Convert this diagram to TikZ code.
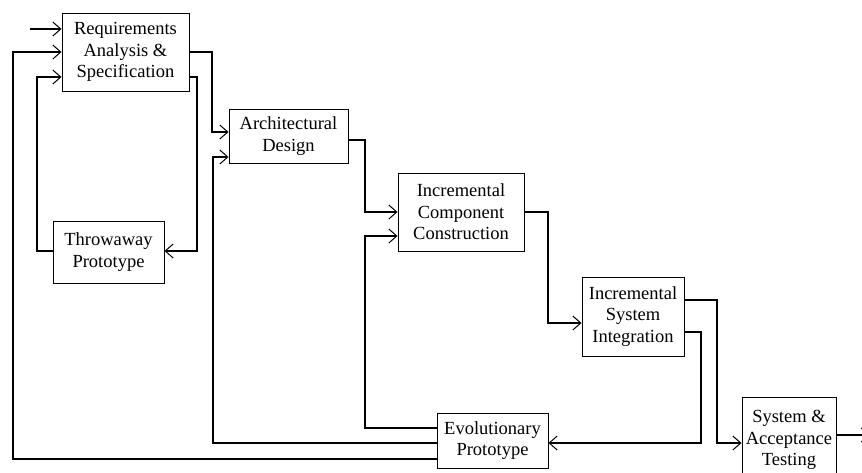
\documentclass[tikz,border=0pt]{standalone}
\usepackage{fontspec}
\setmainfont{Liberation Serif}
\usetikzlibrary{arrows.meta}
\begin{document}
\begin{tikzpicture}[x=1pt,y=-1pt,
  box/.style={draw,line width=0.9pt,align=center,inner sep=0pt,
    font=\fontsize{18.5}{21.5}\selectfont},
  conn/.style={line width=1.6pt,-{Straight Barb[length=8pt,width=14pt,line width=1pt]}},
  plain/.style={line width=1.6pt}]
\useasboundingbox (0,0) rectangle (862,472);
\clip (0,0) rectangle (862,472);
\node[box,minimum width=127pt,minimum height=78pt] (req) at (125.5,52) {Requirements\\Analysis \&\\Specification};
\node[box,minimum width=111pt,minimum height=62pt] (thr) at (108.5,252) {Throwaway\\Prototype};
\node[box,minimum width=119pt,minimum height=54pt] (arch) at (288.5,136) {Architectural\\Design};
\node[box,minimum width=126pt,minimum height=78pt] (icc) at (461,212) {Incremental\\Component\\Construction};
\node[box,minimum width=102pt,minimum height=79pt] (isi) at (633,316.5) {Incremental\\System\\Integration};
\node[box,minimum width=111pt,minimum height=55pt] (evo) at (492.5,440.5) {Evolutionary\\Prototype};
\node[box,minimum width=94pt,minimum height=86pt] (sat) at (789,440) {System \&\\Acceptance\\Testing};
\coordinate (start) at (30,29);
\coordinate (finish) at (870,435);
% entry
\draw[conn] (start) -- (start -| req.west);
% evolutionary -> requirements
\draw[conn] (evo.west |- 0,459) -- (13,459) -- (13,52) -- (req.west |- 0,52);
% throwaway -> requirements
\draw[conn] (thr.west |- 0,251) -- (37,251) -- (37,77) -- (req.west |- 0,77);
% requirements -> architectural
\draw[conn] (req.east |- 0,52) -- (212,52) -- (212,132) -- (arch.west |- 0,132);
% requirements -> throwaway
\draw[conn] (req.east |- 0,77) -- (197,77) -- (197,251) -- (thr.east |- 0,251);
% evolutionary -> architectural
\draw[conn] (evo.west |- 0,443) -- (213,443) -- (213,157) -- (arch.west |- 0,157);
% architectural -> component
\draw[conn] (arch.east |- 0,140) -- (365,140) -- (365,212) -- (icc.west |- 0,212);
% evolutionary -> component
\draw[conn] (evo.west |- 0,428) -- (365,428) -- (365,236) -- (icc.west |- 0,236);
% component -> system integration
\draw[conn] (icc.east |- 0,212) -- (548,212) -- (548,323) -- (isi.west |- 0,323);
% system integration -> acceptance
\draw[conn] (isi.east |- 0,300) -- (717,300) -- (717,443) -- (sat.west |- 0,443);
% system integration -> evolutionary
\draw[conn] (isi.east |- 0,332) -- (701,332) -- (701,443) -- (evo.east |- 0,443);
% exit
\draw[conn] (sat.east |- finish) -- (finish);
\end{tikzpicture}
\end{document}
